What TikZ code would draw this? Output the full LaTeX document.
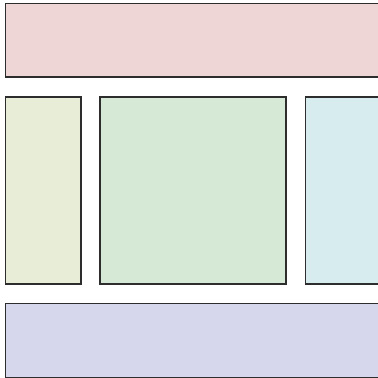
\documentclass[tikz,border=0pt]{standalone}
\definecolor{cpink}{RGB}{239,214,214}
\definecolor{cyel}{RGB}{232,237,216}
\definecolor{cgreen}{RGB}{214,232,214}
\definecolor{ccyan}{RGB}{214,236,238}
\definecolor{clav}{RGB}{214,214,236}
\definecolor{cline}{RGB}{45,45,45}
\begin{document}
\begin{tikzpicture}[x=1pt,y=-1pt,
  panel/.style={draw=cline,line width=1.2pt}]
\useasboundingbox (0,0) rectangle (378,378);
\clip (0,0) rectangle (378,378);
\fill[white] (0,0) rectangle (378,378);
\draw[panel,fill=cpink] (5.5,3.5) rectangle (400,77);
\draw[panel,fill=cyel] (5.5,97) rectangle (81,284);
\draw[panel,fill=cgreen] (100,97) rectangle (286,284);
\draw[panel,fill=ccyan] (305.5,97) rectangle (400,284);
\draw[panel,fill=clav] (5.5,303.5) rectangle (400,377.5);
\end{tikzpicture}
\end{document}
